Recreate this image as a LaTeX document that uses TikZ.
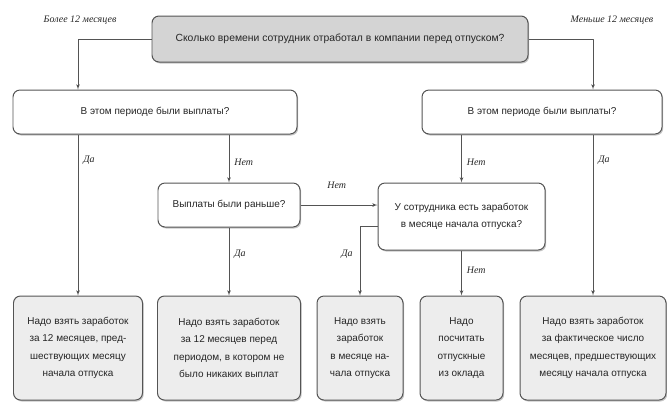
\documentclass[tikz,border=0pt]{standalone}
\usepackage{fontspec}
\setmainfont{Liberation Sans}
\newfontfamily\notefont{Liberation Serif}
\usepackage{tikz}
\usetikzlibrary{arrows,shapes,shadows,calc}
\definecolor{boxline}{rgb}{0.33,0.33,0.33}
\definecolor{topfill}{rgb}{0.83,0.83,0.83}
\definecolor{ansfill}{rgb}{0.93,0.93,0.93}
\definecolor{txtcol}{rgb}{0.15,0.15,0.15}
\tikzset{
  basebox/.style={draw=boxline, line width=1pt, rounded corners=7bp, align=center,
    text=txtcol, inner sep=2bp, drop shadow={shadow xshift=1.2bp, shadow yshift=-1.5bp, opacity=0.45}},
  topq/.style={basebox, fill=topfill, font=\fontsize{10.4}{12}\selectfont},
  question/.style={basebox, fill=white, font=\fontsize{10}{17}\selectfont},
  answer/.style={basebox, fill=ansfill, minimum height=104bp, font=\fontsize{10}{17.5}\selectfont},
  note/.style={font=\notefont\itshape\fontsize{10}{12}\selectfont, text=txtcol, inner sep=1bp},
  link/.style={draw=boxline, line width=0.8pt, ->},
}
\begin{document}
\begin{tikzpicture}[>=latex',line join=bevel,x=1bp,y=-1bp]
\useasboundingbox (0,0) rectangle (667,409);
%%
  % Node: top question
  \node[topq, minimum width=376bp, minimum height=46bp] (top) at (340,39)
    {Сколько времени сотрудник отработал в компании перед отпуском?};
  \node[note] (more) at (80,20) {Более 12 месяцев};
  \node[note] (less) at (612,20) {Меньше 12 месяцев};
  % Node: questions
  \node[question, minimum width=284bp, minimum height=44bp] (qleft) at (155,112) {В этом периоде были выплаты?};
  \node[question, minimum width=240bp, minimum height=44bp] (qright) at (542,112) {В этом периоде были выплаты?};
  \node[question, minimum width=142bp, minimum height=44bp] (qbefore) at (229,205) {Выплаты были раньше?};
  \node[question, minimum width=167bp, minimum height=67bp] (qearn) at (461.5,216.5) {У сотрудника есть заработок\\в месяце начала отпуска?};
  % Node: answers
  \node[answer, minimum width=129bp] (ayear) at (78,348) {Надо взять заработок\\за 12 месяцев, пред-\\шествующих месяцу\\начала отпуска};
  \node[answer, minimum width=143bp] (aprev) at (229,348) {Надо взять заработок\\за 12 месяцев перед\\периодом, в котором не\\было никаких выплат};
  \node[answer, minimum width=86bp] (amonth) at (360,348) {Надо взять\\заработок\\в месяце на-\\чала отпуска};
  \node[answer, minimum width=83bp] (asalary) at (461.5,348) {Надо\\посчитать\\отпускные\\из оклада};
  \node[answer, minimum width=146bp] (afact) at (593,348) {Надо взять заработок\\за фактическое число\\месяцев, предшествующих\\месяцу начала отпуска};
  % Edges
  \draw[link] (top.west) -| (ayear |- qleft.north);
  \draw[link] (top.east) -| (afact |- qright.north);
  \draw[link] (ayear |- qleft.south) -- (ayear.north) node[note, pos=0.16, right=4bp] (y1) {Да};
  \draw[link] (qbefore |- qleft.south) -- (qbefore.north) node[note, pos=0.57, right=4bp] (n1) {Нет};
  \draw[link] (qbefore.east) -- (qbefore.east -| qearn.west) node[note, pos=0.47, above=15bp] (n2) {Нет};
  \draw[link] (qbefore.south) -- (aprev.north) node[note, pos=0.4, right=4bp] (y2) {Да};
  \draw[link] (qearn |- qright.south) -- (qearn.north) node[note, pos=0.57, right=4bp] (n3) {Нет};
  \draw[link] (afact |- qright.south) -- (afact.north) node[note, pos=0.16, right=4bp] (y3) {Да};
  \draw[link] ([yshift=-10bp]qearn.west) -| (amonth.north) node[note, pos=0.7, left=6bp] (y4) {Да};
  \draw[link] (qearn.south) -- (asalary.north) node[note, pos=0.43, right=4bp] (n4) {Нет};
%
\end{tikzpicture}
\end{document}
